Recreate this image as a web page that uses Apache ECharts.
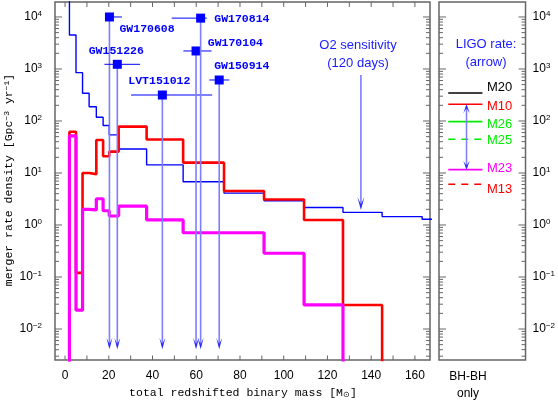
<!DOCTYPE html>
<html><head><meta charset="utf-8">
<script src="https://cdn.jsdelivr.net/npm/echarts@6/dist/echarts.min.js"></script>
<style>html,body{margin:0;padding:0;background:#fff}#c{width:558px;height:402px}</style>
</head><body><div id="c"></div>
<script>
// ---------------- data ----------------
// histogram bin edges (total redshifted binary mass, Msun)
const binEdges = [2, 5, 8, 11, 14.3, 17.4, 20.2, 24.5, 37.3, 54, 72.7, 91, 109.3, 127.1, 145, 163.3, 175];
// O2 sensitivity (blue thin histogram)
const o2Sensitivity = [4500, 850, 341, 188, 118, 82, 54, 29, 14.3, 6.8, 4.1, 2.93, 2.17, 1.75, 1.45, 1.29];
// model M10 (red)
const rateM10 = [62, 0.12, 10, 9.5, 43, 21, 25.7, 78, 44, 15.8, 4.5, 3.1, 1.25, 0.029];
// model M23 (magenta)
const rateM23 = [51.5, 0.023, 2.0, 1.95, 3.2, 1.88, 1.49, 2.3, 1.25, 0.71, 0.71, 0.286, 0.029];

// LIGO/Virgo events
const eventNames = ['GW170608', 'GW151226', 'LVT151012', 'GW170104', 'GW170814', 'GW150914'];
const eventMass = [20.3, 23.9, 44.5, 59.9, 62.0, 70.5];
const eventMassLo = [18.5, 18.0, 30.2, 54.1, 48.8, 66.0];
const eventMassHi = [26.0, 34.3, 67.3, 67.0, 64.8, 75.1];
const eventRate = [10000, 1230, 316, 2220, 9500, 614];
const eventArrowTip = 0.0041;

// O2 sensitivity arrow
const o2ArrowMass = 135.3;
const o2ArrowFrom = 767;
const o2ArrowTo = 1.94;

// LIGO rate panel
const ligoNames = ['M20', 'M10', 'M26', 'M25', 'M23', 'M13'];
const ligoRates = [345, 210, 97, 44.5, 11.6, 6.07];
const ligoArrowRange = [210, 11.6];

// ticks
const xLabelValues = [0, 20, 40, 60, 80, 100, 120, 140, 160];
const xTickValues = [0, 10, 20, 30, 40, 50, 60, 70, 80, 90, 100, 110, 120, 130, 140, 150, 160];
const yLabelValues = [0.01, 0.1, 1, 10, 100, 1000, 10000];

// ---------------- layout / style ----------------
const FONT_SANS = '"Liberation Sans", Arial, sans-serif';
const FONT_MONO = '"Liberation Mono", "DejaVu Sans Mono", monospace';
const xMin = -4.6, xMax = 166.9;
const yMin = Math.pow(10, -2.596), yMax = Math.pow(10, 4.288);
const eventLabelLayout = [[10, 12, 'left'], [-1, -13.5, 'center'], [-3, -14, 'center'], [11.7, -8, 'left'], [13.6, 0.5, 'left'], [-5, -14, 'left']];
const ligoColors = ['#000000', '#ff0000', '#00ee00', '#00ee00', '#ff00ff', '#ff0000'];
const ligoDashed = [false, false, false, true, false, true];
const ligoLabelDy = [-5.7, 2.4, 2.3, 0.7, -1, 5];
const ligoLineX = [0.107, 0.502];
const ligoArrowX = 0.318;

const yTickVals = [];
[0.001, 0.01, 0.1, 1, 10, 100, 1000, 10000].forEach(d => {
  for (let k = 1; k <= 9; k++) { const v = k * d; if (v >= yMin && v <= yMax) yTickVals.push([v, k === 1 ? 1 : 0]); }
});

function stepPoints(edges, vals, startVal, endVal) {
  const pts = [[edges[0], startVal]];
  for (let i = 0; i < vals.length; i++) { pts.push([edges[i], vals[i]]); pts.push([edges[i + 1], vals[i]]); }
  pts.push([edges[vals.length], endVal]);
  return pts;
}
function supFmt(v) { const e = Math.round(Math.log10(v)); return '{b|10}{s|' + (e < 0 ? '\u2212' + (-e) : e) + '}'; }
const supRich = {
  b: { fontSize: 12, fontFamily: FONT_SANS, color: '#000', lineHeight: 14 },
  s: { fontSize: 8, fontFamily: FONT_SANS, color: '#000', verticalAlign: 'top', lineHeight: 8 }
};
function arrowHead(x, tipY, dir, w, h, color) {
  return { type: 'polygon', shape: { points: [[x, tipY], [x - w / 2, tipY - dir * h], [x, tipY - dir * h * 0.45], [x + w / 2, tipY - dir * h]] }, style: { fill: color } };
}
function yTickSeries(gi, xv) {
  return {
    type: 'custom', xAxisIndex: gi, yAxisIndex: gi, silent: true, animation: false, z: 6,
    data: yTickVals.map(t => [xv, t[0], t[1]]), encode: { x: 0, y: 1 },
    renderItem(params, api) {
      const cs = params.coordSys; const y = api.coord([xv, api.value(1)])[1];
      const len = api.value(2) ? 7 : 4; const st = { stroke: '#666', lineWidth: 1 };
      return { type: 'group', children: [
        { type: 'line', shape: { x1: cs.x, y1: y, x2: cs.x + len, y2: y }, style: st },
        { type: 'line', shape: { x1: cs.x + cs.width - len, y1: y, x2: cs.x + cs.width, y2: y }, style: st }] };
    }
  };
}

const chart = echarts.init(document.getElementById('c'), null, { renderer: 'canvas' });
const option = {
  animation: false,
  backgroundColor: '#fff',
  grid: [
    { left: 55, top: 2, width: 375, height: 358, show: true, borderColor: '#666', borderWidth: 1.5, backgroundColor: 'transparent' },
    { left: 439, top: 2, width: 87, height: 358, show: true, borderColor: '#666', borderWidth: 1.5, backgroundColor: 'transparent' }
  ],
  xAxis: [
    { gridIndex: 0, type: 'value', min: xMin, max: xMax, axisLine: { show: false }, axisTick: { show: false }, splitLine: { show: false },
      axisLabel: { customValues: xLabelValues, fontSize: 12, fontFamily: FONT_SANS, color: '#000', margin: 10 } },
    { gridIndex: 1, type: 'value', min: 0, max: 1, show: false }
  ],
  yAxis: [
    { gridIndex: 0, type: 'log', min: yMin, max: yMax, axisLine: { show: false }, axisTick: { show: false }, splitLine: { show: false },
      axisLabel: { customValues: yLabelValues, formatter: supFmt, rich: supRich, margin: 13 } },
    { gridIndex: 1, type: 'log', position: 'right', min: yMin, max: yMax, axisLine: { show: false }, axisTick: { show: false }, splitLine: { show: false },
      axisLabel: { customValues: yLabelValues, formatter: supFmt, rich: supRich, margin: 7 } }
  ],
  graphic: [
    { type: 'text', x: 243, y: 393, style: { text: 'total redshifted binary mass [M{sub|\u2299}]', font: '11.5px ' + FONT_MONO, fill: '#000', align: 'center', verticalAlign: 'middle',
      rich: { sub: { fontSize: 8, fontFamily: FONT_SANS, verticalAlign: 'bottom', lineHeight: 8 } } } },
    { type: 'text', x: 9, y: 180, rotation: Math.PI / 2, style: { text: 'merger rate density [Gpc{sup|\u22123} yr{sup|\u22121}]', font: '11.5px ' + FONT_MONO, fill: '#000', align: 'center', verticalAlign: 'middle',
      rich: { sup: { fontSize: 8, fontFamily: FONT_MONO, verticalAlign: 'top', lineHeight: 8 } } } },
    { type: 'text', x: 358, y: 45, style: { text: 'O2 sensitivity', font: '13px ' + FONT_SANS, fill: '#1a1aff', align: 'center', verticalAlign: 'middle' } },
    { type: 'text', x: 358, y: 63, style: { text: '(120 days)', font: '13px ' + FONT_SANS, fill: '#1a1aff', align: 'center', verticalAlign: 'middle' } },
    { type: 'text', x: 486, y: 44, style: { text: 'LIGO rate:', font: '13px ' + FONT_SANS, fill: '#1a1aff', align: 'center', verticalAlign: 'middle' } },
    { type: 'text', x: 486, y: 62, style: { text: '(arrow)', font: '13px ' + FONT_SANS, fill: '#1a1aff', align: 'center', verticalAlign: 'middle' } },
    { type: 'text', x: 468, y: 377, style: { text: 'BH-BH', font: '12px ' + FONT_SANS, fill: '#000', align: 'center', verticalAlign: 'middle' } },
    { type: 'text', x: 468, y: 394, style: { text: 'only', font: '12px ' + FONT_SANS, fill: '#000', align: 'center', verticalAlign: 'middle' } }
  ],
  series: [
    { type: 'line', xAxisIndex: 0, yAxisIndex: 0, data: stepPoints(binEdges, o2Sensitivity, 1e7, 1e-6), showSymbol: false, clip: true,
      lineStyle: { color: '#0000ff', width: 1.4 }, itemStyle: { color: '#0000ff' }, z: 2 },
    { type: 'line', xAxisIndex: 0, yAxisIndex: 0, data: stepPoints(binEdges, rateM10, 1e-6, 1e-6), showSymbol: false, clip: true,
      lineStyle: { color: '#ff0000', width: 2.6 }, itemStyle: { color: '#ff0000' }, z: 3 },
    { type: 'line', xAxisIndex: 0, yAxisIndex: 0, data: stepPoints(binEdges, rateM23, 1e-6, 1e-6), showSymbol: false, clip: true,
      lineStyle: { color: '#ff00ff', width: 3.2 }, itemStyle: { color: '#ff00ff' }, z: 4 },
    // O2 sensitivity arrow
    { type: 'custom', xAxisIndex: 0, yAxisIndex: 0, silent: true, z: 7, data: [[o2ArrowMass, o2ArrowFrom, o2ArrowTo]], encode: { x: 0, y: 1 },
      renderItem(params, api) {
        const top = api.coord([api.value(0), api.value(1)]); const tip = api.coord([api.value(0), api.value(2)]);
        return { type: 'group', children: [
          { type: 'line', shape: { x1: top[0], y1: top[1], x2: tip[0], y2: tip[1] - 3 }, style: { stroke: '#7d7dff', lineWidth: 1.6 } },
          arrowHead(tip[0], tip[1], 1, 7, 13, '#2a2aff')] };
      } },
    // events
    { type: 'custom', xAxisIndex: 0, yAxisIndex: 0, silent: true, z: 8,
      data: eventNames.map((n, i) => [eventMass[i], eventRate[i], eventMassLo[i], eventMassHi[i], i]), encode: { x: 0, y: 1 },
      renderItem(params, api) {
        const i = api.value(4); const r = api.value(1);
        const p = api.coord([api.value(0), r]); const pl = api.coord([api.value(2), r]); const ph = api.coord([api.value(3), r]);
        const tip = api.coord([api.value(0), eventArrowTip]);
        const L = eventLabelLayout[i];
        return { type: 'group', children: [
          { type: 'line', shape: { x1: p[0], y1: p[1], x2: tip[0], y2: tip[1] - 3 }, style: { stroke: '#7d7dff', lineWidth: 1.6 } },
          arrowHead(tip[0], tip[1], 1, 6, 11.5, '#2a2aff'),
          { type: 'line', shape: { x1: pl[0], y1: p[1], x2: ph[0], y2: p[1] }, style: { stroke: '#0000ff', lineWidth: 1 } },
          { type: 'rect', shape: { x: p[0] - 4.5, y: p[1] - 4.5, width: 9, height: 9 }, style: { fill: '#0000ff' } },
          { type: 'text', style: { text: eventNames[i], x: p[0] + L[0], y: p[1] + L[1], align: L[2], verticalAlign: 'middle', font: 'bold 11.5px ' + FONT_MONO, fill: '#0000ff' } }] };
      } },
    // LIGO rate legend panel
    { type: 'custom', xAxisIndex: 1, yAxisIndex: 1, silent: true, z: 5,
      data: ligoRates.map((r, i) => [0.5, r, i]), encode: { x: 0, y: 1 },
      renderItem(params, api) {
        const i = api.value(2); const r = api.value(1);
        const a = api.coord([ligoLineX[0], r]); const b = api.coord([ligoLineX[1], r]);
        return { type: 'group', children: [
          { type: 'line', shape: { x1: a[0], y1: a[1], x2: b[0], y2: b[1] }, style: { stroke: ligoColors[i], lineWidth: 1.6, lineDash: ligoDashed[i] ? [7, 6] : null } },
          { type: 'text', style: { text: ligoNames[i], x: b[0] + 4.6, y: b[1] + ligoLabelDy[i], align: 'left', verticalAlign: 'middle', font: '13px ' + FONT_SANS, fill: ligoColors[i] } }] };
      } },
    { type: 'custom', xAxisIndex: 1, yAxisIndex: 1, silent: true, z: 6,
      data: [[ligoArrowX, ligoArrowRange[0], ligoArrowRange[1]]], encode: { x: 0, y: 1 },
      renderItem(params, api) {
        const t = api.coord([api.value(0), api.value(1)]); const b = api.coord([api.value(0), api.value(2)]);
        return { type: 'group', children: [
          { type: 'line', shape: { x1: t[0], y1: t[1] + 2, x2: b[0], y2: b[1] - 2 }, style: { stroke: '#7d7dff', lineWidth: 1.5 } },
          arrowHead(t[0], t[1], -1, 6.5, 9, '#2a2aff'),
          arrowHead(b[0], b[1], 1, 6.5, 9, '#2a2aff')] };
      } },
    // ticks
    yTickSeries(0, 0),
    yTickSeries(1, 0.5),
    { type: 'custom', xAxisIndex: 0, yAxisIndex: 0, silent: true, z: 6,
      data: xTickValues.map(v => [v, 1]), encode: { x: 0, y: 1 },
      renderItem(params, api) {
        const cs = params.coordSys; const x = api.coord([api.value(0), 1])[0]; const st = { stroke: '#666', lineWidth: 1 };
        return { type: 'group', children: [
          { type: 'line', shape: { x1: x, y1: cs.y + cs.height, x2: x, y2: cs.y + cs.height - 4.5 }, style: st },
          { type: 'line', shape: { x1: x, y1: cs.y, x2: x, y2: cs.y + 5 }, style: st }] };
      } }
  ]
};
chart.setOption(option);
</script>
</body></html>
